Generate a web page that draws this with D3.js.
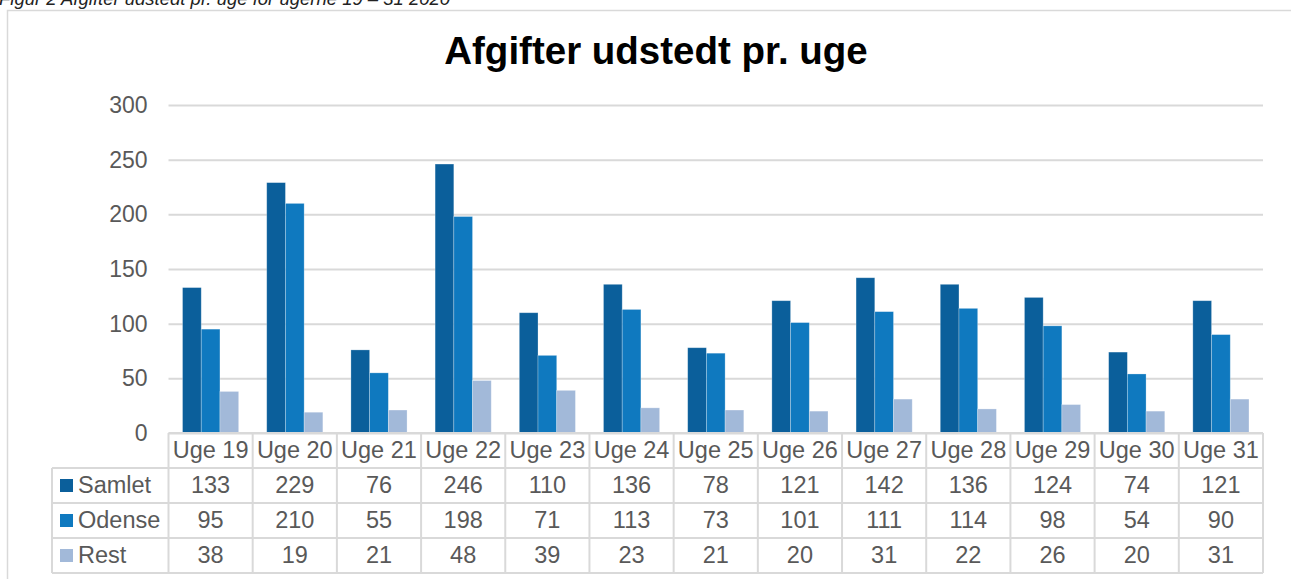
<!DOCTYPE html>
<html>
<head>
<meta charset="utf-8">
<script src="https://cdn.jsdelivr.net/npm/d3@7"></script>
<style>
  body { margin: 0; background: #fff; overflow: hidden; }
  svg { display: block; font-family: "Liberation Sans", Arial, sans-serif; }
</style>
</head>
<body>
<script>
// data
const weeks = ["Uge 19", "Uge 20", "Uge 21", "Uge 22", "Uge 23", "Uge 24", "Uge 25",
  "Uge 26", "Uge 27", "Uge 28", "Uge 29", "Uge 30", "Uge 31"];
const seriesNames = ["Samlet", "Odense", "Rest"];
const samlet = [133, 229, 76, 246, 110, 136, 78, 121, 142, 136, 124, 74, 121];
const odense = [95, 210, 55, 198, 71, 113, 73, 101, 111, 114, 98, 54, 90];
const rest = [38, 19, 21, 48, 39, 23, 21, 20, 31, 22, 26, 20, 31];
const yTicks = [0, 50, 100, 150, 200, 250, 300];

const seriesValues = [samlet, odense, rest];
const colors = ["#0b5f9b", "#0f79bf", "#a2b9d9"];

let width = 1291;
let height = 579;
let plotLeft = 168.5, plotRight = 1263;
let plotTop = 105, plotBottom = 433;
let rowH = 35;
let legendLeft = 52;
let gridColor = "#d9d9d9";
let textColor = "#595959";
let fontSize = 23.5;

let svg = d3.select("body").append("svg")
  .attr("width", width)
  .attr("height", height);

// caption above the chart (cut off at the top edge, as in the source)
svg.append("text")
  .attr("x", -1)
  .attr("y", 5)
  .attr("font-size", 18.5)
  .attr("font-style", "italic")
  .attr("fill", "#222")
  .text("Figur 2 Afgifter udstedt pr. uge for ugerne 19 \u2013 31 2020");

// chart frame
svg.append("rect")
  .attr("x", 7.5)
  .attr("y", 10.5)
  .attr("width", 1300)
  .attr("height", 600)
  .attr("fill", "none")
  .attr("stroke", gridColor)
  .attr("stroke-width", 1.5);

svg.append("text")
  .attr("x", 656)
  .attr("y", 64)
  .attr("text-anchor", "middle")
  .attr("font-size", 38.5)
  .attr("font-weight", "bold")
  .attr("fill", "#000")
  .text("Afgifter udstedt pr. uge");

let x0 = d3.scaleBand().domain(weeks).range([plotLeft, plotRight]);
let x1 = d3.scaleBand().domain(seriesNames).range([0, x0.bandwidth()]).paddingOuter(0.75);
let y = d3.scaleLinear().domain([0, 300]).range([plotBottom, plotTop]);

// y axis with gridlines
let yAxis = svg.append("g")
  .attr("transform", `translate(${plotLeft},0)`)
  .call(d3.axisLeft(y).tickValues(yTicks).tickSize(-(plotRight - plotLeft)).tickPadding(21));
yAxis.select(".domain").remove();
yAxis.selectAll(".tick line")
  .attr("stroke", gridColor)
  .attr("stroke-width", 2);
yAxis.selectAll(".tick text")
  .attr("font-size", 23)
  .attr("font-family", "Liberation Sans, Arial, sans-serif")
  .attr("fill", textColor);

// bars
let rows = seriesNames.map((name, si) => ({ name: name, color: colors[si], values: seriesValues[si] }));

let groups = svg.selectAll("g.series")
  .data(rows)
  .enter()
  .append("g")
  .classed("series", true)
  .attr("fill", (d) => d.color);

groups.selectAll("rect")
  .data((d) => d.values.map((v, i) => ({ name: d.name, week: weeks[i], value: v })))
  .enter()
  .append("rect")
  .attr("x", (d) => x0(d.week) + x1(d.name))
  .attr("y", (d) => y(d.value))
  .attr("width", x1.bandwidth())
  .attr("height", (d) => y(0) - y(d.value))
  .attr("stroke", "rgba(255,255,255,0.35)")
  .attr("stroke-width", 0.75);

// data table
let table = svg.append("g").attr("stroke", gridColor).attr("stroke-width", 2).attr("fill", "none");
let tableBottom = plotBottom + rowH * 4;

// horizontal lines
table.append("line").attr("x1", plotLeft).attr("x2", plotRight).attr("y1", plotBottom).attr("y2", plotBottom);
[1, 2, 3, 4].forEach((r) => {
  table.append("line")
    .attr("x1", legendLeft).attr("x2", plotRight)
    .attr("y1", plotBottom + r * rowH).attr("y2", plotBottom + r * rowH);
});
// vertical lines
table.append("line").attr("x1", legendLeft).attr("x2", legendLeft)
  .attr("y1", plotBottom + rowH).attr("y2", tableBottom);
table.selectAll("line.col")
  .data(weeks)
  .enter()
  .append("line")
  .classed("col", true)
  .attr("x1", (d) => x0(d)).attr("x2", (d) => x0(d))
  .attr("y1", plotBottom).attr("y2", tableBottom);
table.append("line").attr("x1", plotRight).attr("x2", plotRight)
  .attr("y1", plotBottom).attr("y2", tableBottom);

// header labels
svg.selectAll("text.week")
  .data(weeks)
  .enter()
  .append("text")
  .classed("week", true)
  .attr("x", (d) => x0(d) + x0.bandwidth() / 2)
  .attr("y", plotBottom + 25)
  .attr("text-anchor", "middle")
  .attr("font-size", fontSize)
  .attr("fill", textColor)
  .text((d) => d);

// legend keys and row names
let rowG = svg.selectAll("g.row")
  .data(rows)
  .enter()
  .append("g")
  .classed("row", true)
  .attr("transform", (d, i) => `translate(0, ${plotBottom + (i + 1) * rowH})`);

rowG.append("rect")
  .attr("x", 60)
  .attr("y", 11)
  .attr("width", 13)
  .attr("height", 13)
  .attr("fill", (d) => d.color);

rowG.append("text")
  .attr("x", 78)
  .attr("y", 25)
  .attr("font-size", fontSize)
  .attr("fill", textColor)
  .text((d) => d.name);

rowG.selectAll("text.val")
  .data((d) => d.values.map((v, i) => ({ week: weeks[i], value: v })))
  .enter()
  .append("text")
  .classed("val", true)
  .attr("x", (d) => x0(d.week) + x0.bandwidth() / 2)
  .attr("y", 25)
  .attr("text-anchor", "middle")
  .attr("font-size", fontSize)
  .attr("fill", textColor)
  .text((d) => d.value);
</script>
</body>
</html>
